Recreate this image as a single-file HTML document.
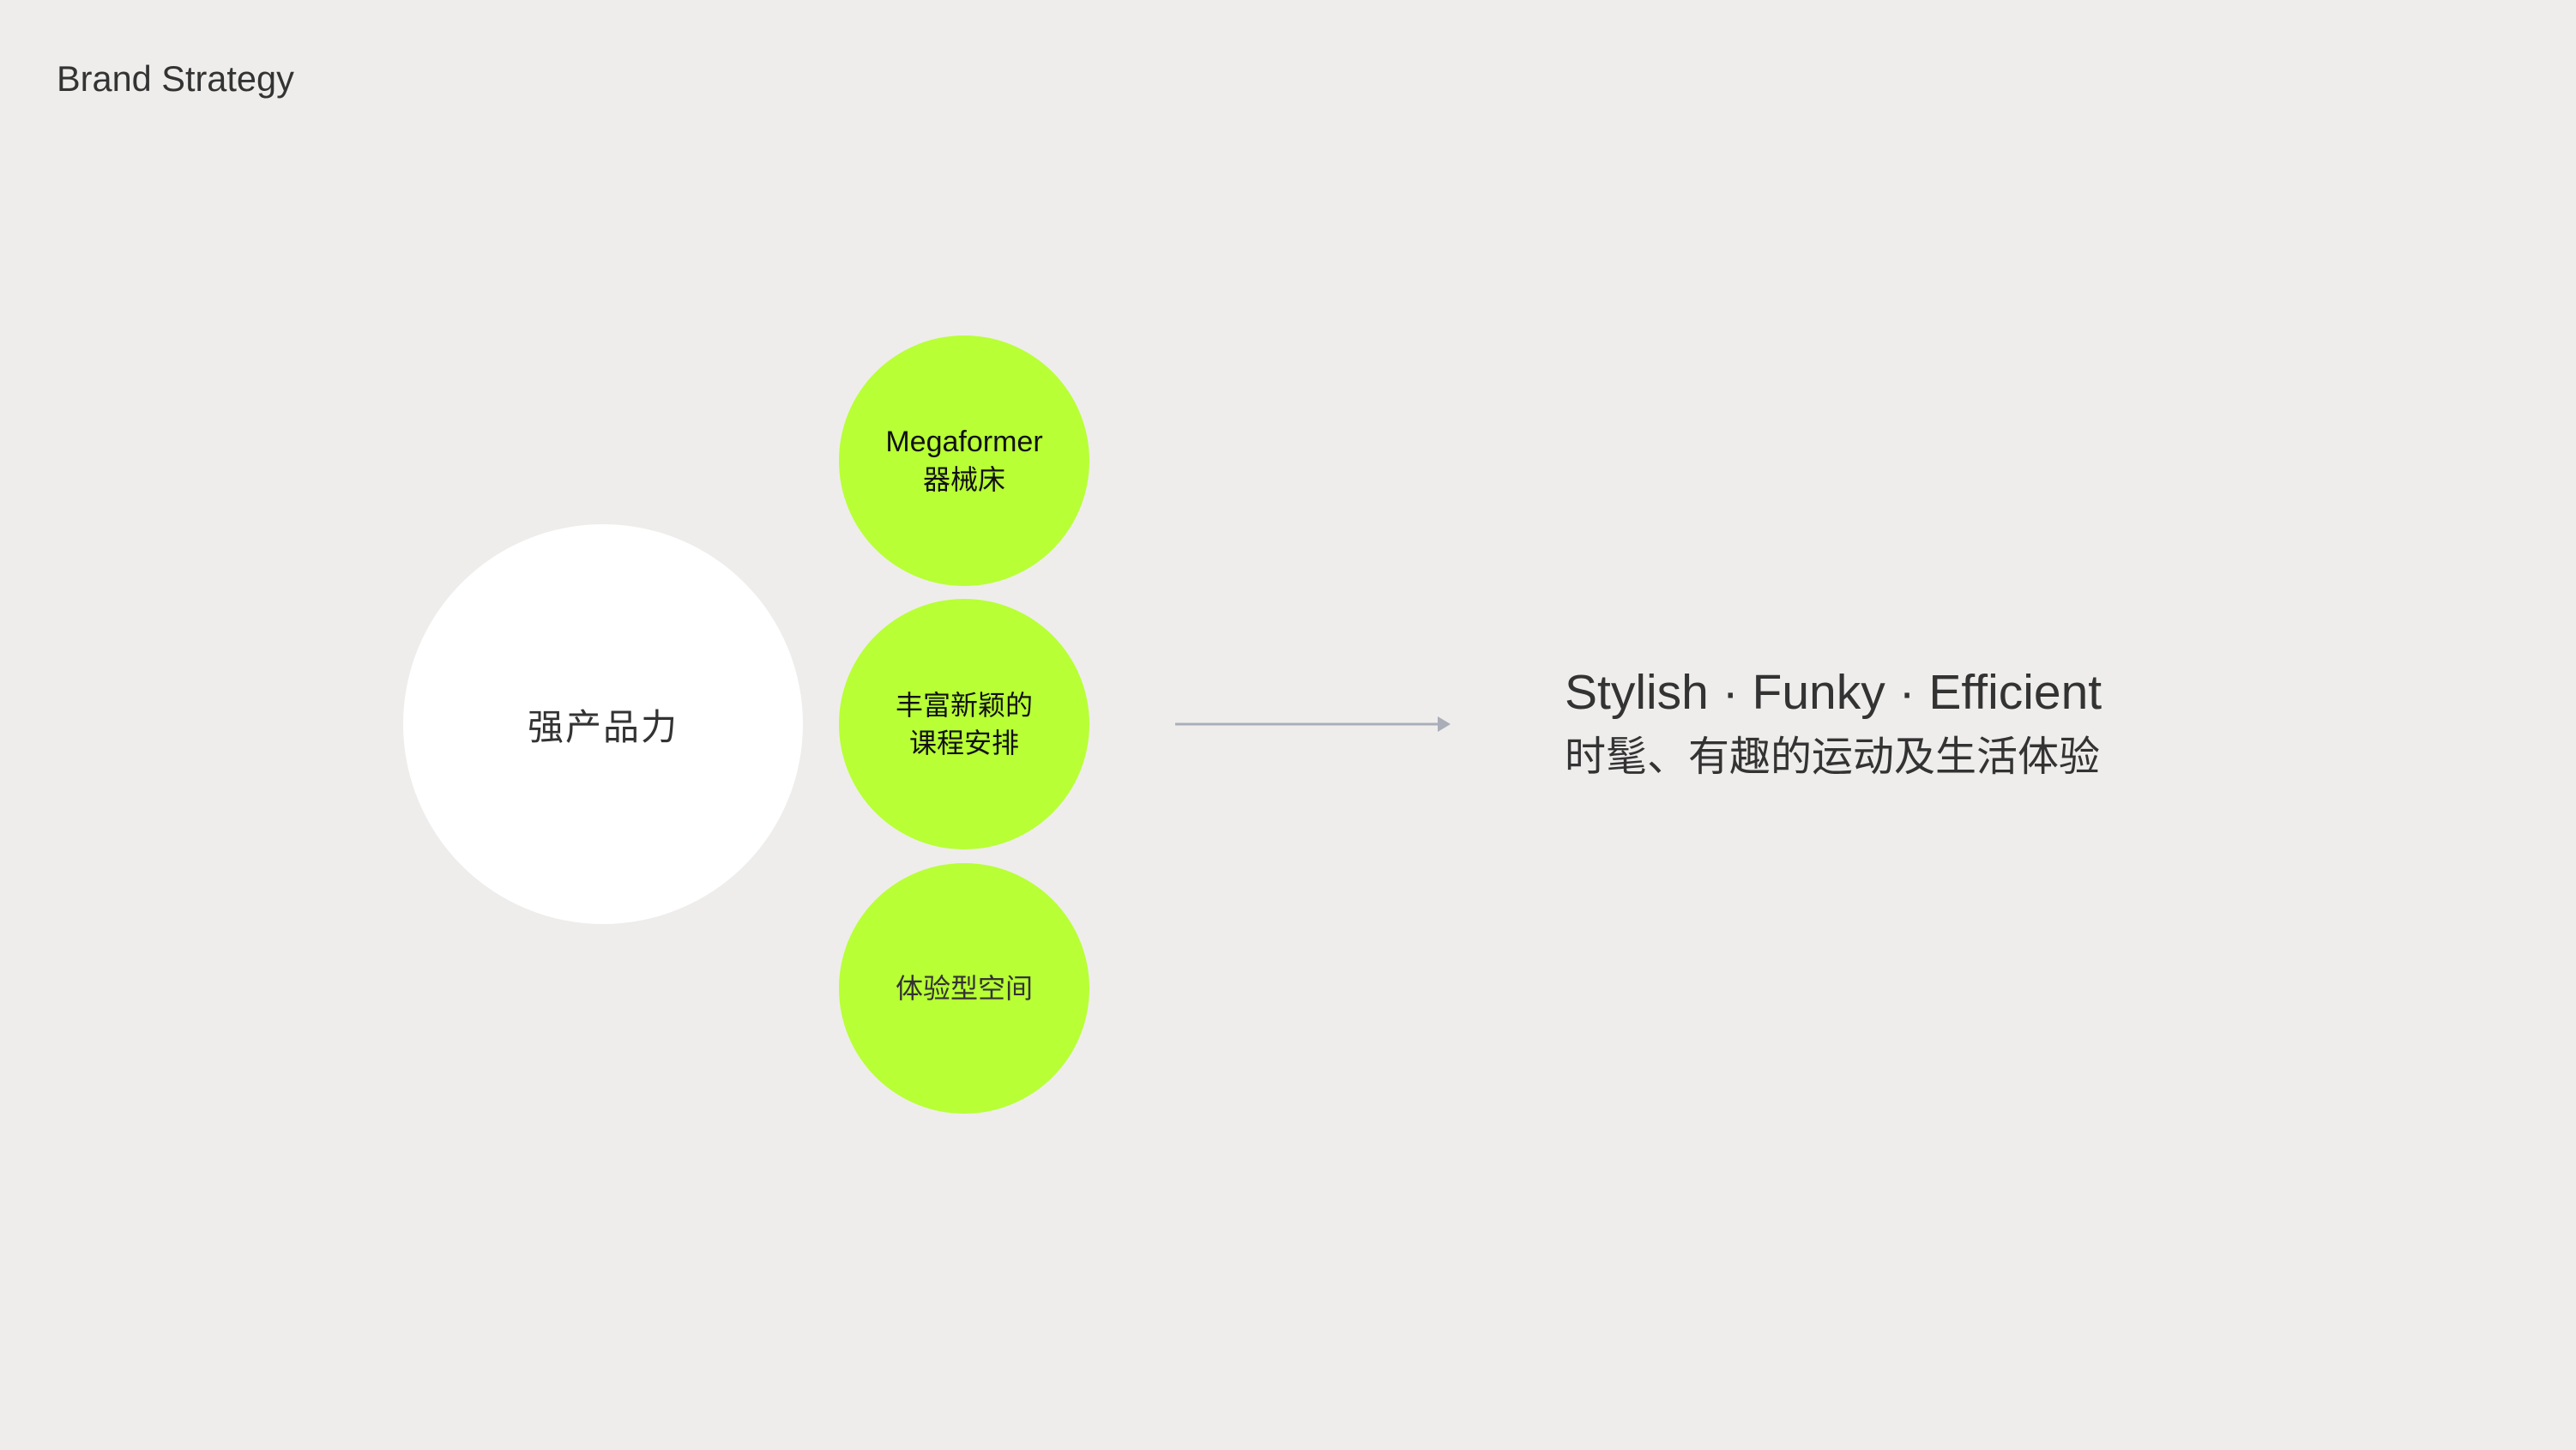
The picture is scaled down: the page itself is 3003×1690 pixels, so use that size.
<!DOCTYPE html>
<html><head><meta charset="utf-8"><style>
html,body{margin:0;padding:0}
body{width:3003px;height:1690px;background:#eeedeb;position:relative;overflow:hidden;font-family:"Liberation Sans","Noto Sans CJK SC",sans-serif;}
.t{position:absolute;white-space:nowrap}
.c{position:absolute;border-radius:50%;display:flex;flex-direction:column;align-items:center;justify-content:center;text-align:center}
.g{background:#b8ff36;width:292px;height:292px;color:#111;font-size:32px;line-height:44px}
</style></head><body>
<div class="t" style="left:66px;top:68px;font-size:41.5px;line-height:48px;color:#333">Brand Strategy</div>
<div class="c" style="left:470px;top:611px;width:466px;height:466px;background:#fff;color:#333;font-size:42px;letter-spacing:2px">强产品力</div>
<div class="c g" style="left:978px;top:391px"><div style="font-size:34px">Megaformer</div><div>器械床</div></div>
<div class="c g" style="left:978px;top:698px"><div>丰富新颖的</div><div>课程安排</div></div>
<div class="c g" style="left:978px;top:1006px;color:#333"><div>体验型空间</div></div>
<svg style="position:absolute;left:0;top:0" width="3003" height="1690">
<line x1="1370" y1="844" x2="1678" y2="844" stroke="#a9aeb9" stroke-width="3"/>
<polygon points="1676,835 1691,844 1676,853" fill="#a9aeb9"/>
</svg>
<div class="t" style="left:1824px;top:774px;font-size:57px;line-height:66px;color:#333">Stylish · Funky · Efficient</div>
<div class="t" style="left:1824px;top:853px;font-size:48px;line-height:60px;color:#333">时髦、有趣的运动及生活体验</div>
</body></html>
